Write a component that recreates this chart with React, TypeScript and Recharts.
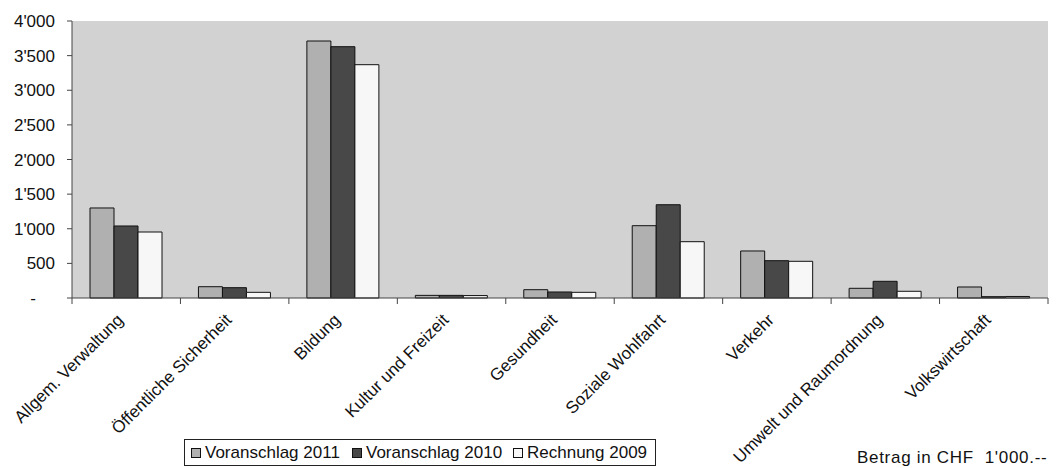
import React from 'react';
import { BarChart, Bar, XAxis, YAxis, CartesianGrid, Legend } from 'recharts';

const categories = [
  'Allgem. Verwaltung',
  'Öffentliche Sicherheit',
  'Bildung',
  'Kultur und Freizeit',
  'Gesundheit',
  'Soziale Wohlfahrt',
  'Verkehr',
  'Umwelt und Raumordnung',
  'Volkswirtschaft',
];
const voranschlag2011 = [1300, 163, 3711, 38, 120, 1044, 679, 140, 159];
const voranschlag2010 = [1040, 149, 3629, 38, 87, 1347, 539, 241, 19];
const rechnung2009 = [953, 82, 3369, 35, 82, 813, 530, 97, 22];
const yTicks = [0, 500, 1000, 1500, 2000, 2500, 3000, 3500, 4000];
const seriesNames = ['Voranschlag 2011', 'Voranschlag 2010', 'Rechnung 2009'];
const unitNote = "Betrag in CHF  1'000.--";

const data = categories.map((c, i) => ({
  name: c,
  v2011: voranschlag2011[i],
  v2010: voranschlag2010[i],
  r2009: rechnung2009[i],
}));

const W = 1062;
const H = 468;
const M = { top: 21, right: 14, bottom: 0, left: 0 };
const YW = 72;
const LEG_H = 27;
const XH = 170 - LEG_H;
const PLOT_W = W - M.left - M.right - YW;
const BAND = PLOT_W / categories.length;
const FONT = '"Liberation Sans", Arial, Helvetica, sans-serif';
const FS = 17;
const AXIS = '#444';
const C1 = '#AFB0AF';
const C2 = '#484848';
const C3 = '#F7F7F7';
const BG = '#D1D2D1';

const fmt = (v: number) => {
  if (v === 0) return '-';
  const s = String(v);
  return s.replace(/\B(?=(\d{3})+(?!\d))/g, "'");
};

const XTick = (props: any) => {
  const { x, y, payload, index } = props;
  const half = BAND / 2;
  return (
    <g>
      <line x1={x - half} x2={x - half} y1={y} y2={y + 6} stroke={AXIS} />
      {index === categories.length - 1 && (
        <line x1={x + half} x2={x + half} y1={y} y2={y + 6} stroke={AXIS} />
      )}
      <text
        transform={`translate(${x - 2},${y + 23}) rotate(-45)`}
        textAnchor="end"
        fontSize={FS}
        fontFamily={FONT}
        fill="#111"
      >
        {payload.value}
      </text>
    </g>
  );
};

const YTick = (props: any) => {
  const { x, y, payload } = props;
  const v = payload.value;
  const dx = v === 0 ? -19 : 0;
  return (
    <text
      x={x + dx}
      y={y}
      textAnchor="end"
      dy="0.36em"
      fontSize={FS}
      fontFamily={FONT}
      fill="#111"
    >
      {fmt(v)}
    </text>
  );
};

const legendColors = [C1, C2, C3];
const legendMarkerX = [7, 168, 329];

const LegendContent = () => (
  <svg width={472} height={LEG_H} style={{ display: 'block' }}>
    <rect x={0.5} y={0.5} width={471} height={26} fill="#fff" stroke="#222" />
    {seriesNames.map((n, i) => (
      <g key={n}>
        <rect x={legendMarkerX[i] + 0.5} y={9.5} width={9} height={9} fill={legendColors[i]} stroke="#111" />
        <text x={legendMarkerX[i] + 14} y={19} fontSize={FS} fontFamily={FONT} fill="#111">
          {n}
        </text>
      </g>
    ))}
  </svg>
);

export default function App() {
  return (
    <div style={{ position: 'absolute', left: 0, top: 0, width: W, height: H, background: '#fff' }}>
      <BarChart width={W} height={H} data={data} margin={M} barGap={0} barSize={24}>
        <CartesianGrid fill={BG} horizontal={false} vertical={false} stroke="none" />
        <XAxis
          dataKey="name"
          height={XH}
          interval={0}
          tick={<XTick />}
          tickLine={false}
          tickSize={0}
          tickMargin={0}
          axisLine={{ stroke: AXIS }}
        />
        <YAxis
          width={YW}
          domain={[0, 4000]}
          ticks={yTicks}
          interval={0}
          tickSize={5}
          tickMargin={12}
          tick={<YTick />}
          tickLine={{ stroke: AXIS }}
          axisLine={{ stroke: AXIS }}
        />
        <Legend
          content={<LegendContent />}
          wrapperStyle={{ position: 'absolute', left: 184, top: 439, width: 472, height: LEG_H, bottom: 'auto', right: 'auto' }}
        />
        <Bar dataKey="v2011" name={seriesNames[0]} fill={C1} stroke="#111" strokeWidth={1} isAnimationActive={false} />
        <Bar dataKey="v2010" name={seriesNames[1]} fill={C2} stroke="#111" strokeWidth={1} isAnimationActive={false} />
        <Bar dataKey="r2009" name={seriesNames[2]} fill={C3} stroke="#111" strokeWidth={1} isAnimationActive={false} />
      </BarChart>
      <svg width={W} height={H} style={{ position: 'absolute', left: 0, top: 0, pointerEvents: 'none' }}>
        <text x={857} y={463} fontSize={FS} fontFamily={FONT} fill="#111" style={{ whiteSpace: 'pre', letterSpacing: 0.7 }}>
          {unitNote}
        </text>
      </svg>
    </div>
  );
}
